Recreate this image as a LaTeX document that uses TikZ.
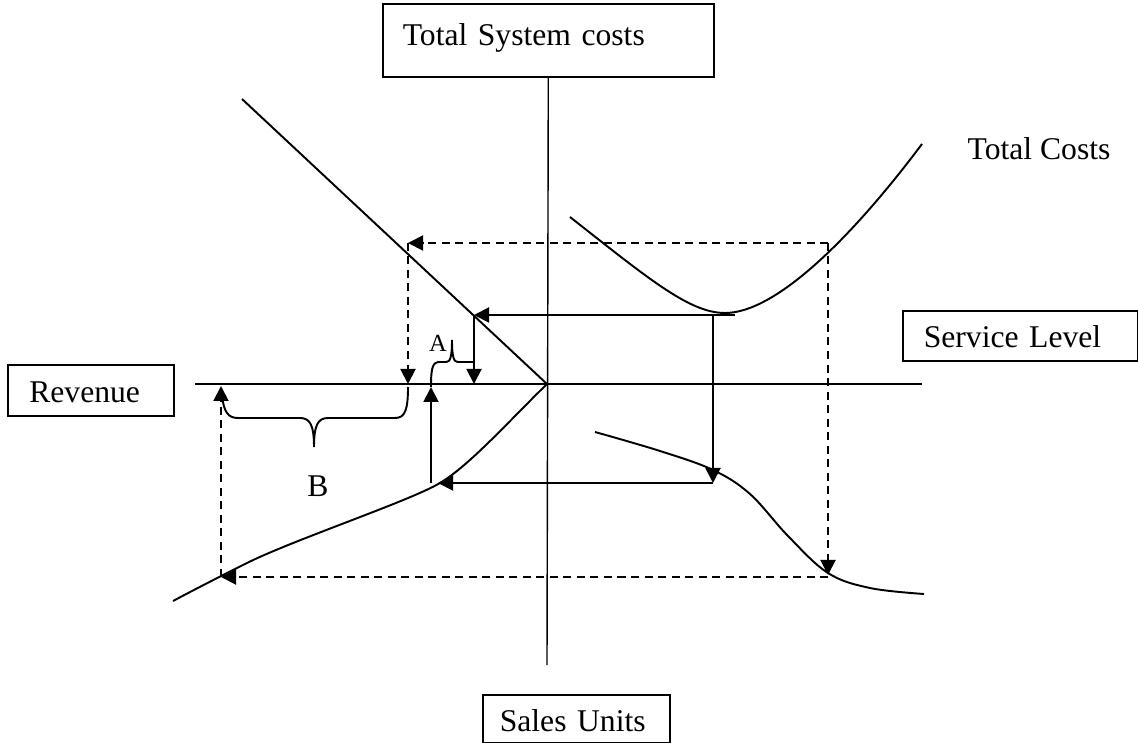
\documentclass[tikz,border=0pt]{standalone}
\usepackage{fontspec}
\setmainfont{Liberation Serif}
\usetikzlibrary{arrows.meta}

\begin{document}
\begin{tikzpicture}[
      x = .2mm, y = -.2mm,
      every node/.style = {font = \fontsize{18}{21}\selectfont},
      axisbox/.style = {
        draw, line width = .9pt, anchor = north west, inner ysep = 0pt, align = left},
      axis/.style = {line width = .8pt},
      curve/.style = {line width = 1.1pt},
      guide/.style = {line width = 1.1pt, dash pattern = on 1.6mm off 1.1mm},
      tip/.style = {-{Triangle[length = 3mm, width = 3mm]}}
      ]
    \useasboundingbox (0,0) rectangle (1138,743);
    \node[axisbox, inner xsep = 4mm, text width = 58.2mm,
      text height = 8.4mm, text depth = 6.2mm] (tsc) at (382,3) {Total System costs};
    \node[axisbox, inner xsep = 4.3mm, text width = 24.6mm,
      text height = 7.6mm, text depth = 2.6mm] (rev) at (7,364) {Revenue};
    \node[axisbox, inner xsep = 4.2mm, text width = 38.6mm,
      text height = 7.4mm, text depth = 2.6mm] (svc) at (902,310) {Service Level};
    \node[axisbox, inner xsep = 3.4mm, text width = 30.6mm,
      text height = 7.4mm, text depth = 2.2mm] (sal) at (482,694) {Sales Units};
    \node[anchor = base] (tcl) at (1039,160) {Total Costs};
    \node[font = \fontsize{14}{16}\selectfont] (la) at (438,343) {A};
    \node (lb) at (318,486) {B};
    % axes
    \coordinate (O) at (547,384);
    \coordinate (xl) at (195,384);
    \coordinate (xr) at (922,384);
    \coordinate (yb) at (547,665);
    \draw[axis] (tsc.south) -- (yb);
    \draw[axis] (xl) -- (xr);
    % curves
    \coordinate (d1) at (242,99);
    \draw[curve] (d1) -- (O);
    \coordinate (tc1) at (570,217);
    \coordinate (tc2) at (725,313);
    \coordinate (tc3) at (922,144);
    \draw[curve] (tc1) .. controls (650,280) and (690,313) .. (tc2)
      .. controls (775,313) and (850,240) .. (tc3);
    \draw[curve] plot[smooth, tension = .6] coordinates {
      (595,432) (660,451) (713,470) (750,494) (788,536) (828,573) (870,588) (924,594)};
    \coordinate (rv1) at (440,483);
    \coordinate (rv2) at (245,564);
    \coordinate (rv3) at (173,601);
    \draw[curve] (O) .. controls (510,420) and (470,465) .. (rv1)
      .. controls (410,501) and (290,541) .. (rv2)
      .. controls (209,582) and (190,592) .. (rv3);
    % solid arrows
    \coordinate (s1) at (735,315);
    \coordinate (s2) at (474,315);
    \coordinate (s3) at (474,384);
    \coordinate (s4) at (713,315);
    \coordinate (s5) at (713,483);
    \coordinate (s6) at (438,483);
    \coordinate (s7) at (431,483);
    \coordinate (s8) at (431,387);
    \draw[curve, tip] (s1) -- (s2);
    \draw[curve, tip] (s2) -- (s3);
    \draw[curve, tip] (s4) -- (s5);
    \draw[curve, tip] (s5) -- (s6);
    \draw[curve, tip] (s7) -- (s8);
    % dashed arrows
    \coordinate (c1) at (828,243);
    \coordinate (c2) at (408,243);
    \coordinate (c3) at (408,384);
    \coordinate (c4) at (828,575);
    \coordinate (c5) at (828,577);
    \coordinate (c6) at (221,577);
    \coordinate (c7) at (221,386);
    \draw[guide, tip] (c1) -- (c2);
    \draw[guide, tip] (c2) -- (c3);
    \draw[guide, tip] (c1) -- (c4);
    \draw[guide, tip] (c5) -- (c6);
    \draw[guide, tip] (c6) -- (c7);
    % braces
    \draw[curve] (431,387) .. controls (431,366) and (433,362) .. (440,362) -- (446,362)
      .. controls (450,362) and (452,358) .. (452,340)
      .. controls (452,358) and (454,362) .. (458,362) -- (474,362);
    \draw[curve] (222,396) .. controls (224,412) and (228,418) .. (238,418) -- (300,418)
      .. controls (310,418) and (314,425) .. (314,447)
      .. controls (314,425) and (318,418) .. (328,418) -- (395,418)
      .. controls (405,418) and (408,410) .. (408,387);
\end{tikzpicture}
\end{document}
